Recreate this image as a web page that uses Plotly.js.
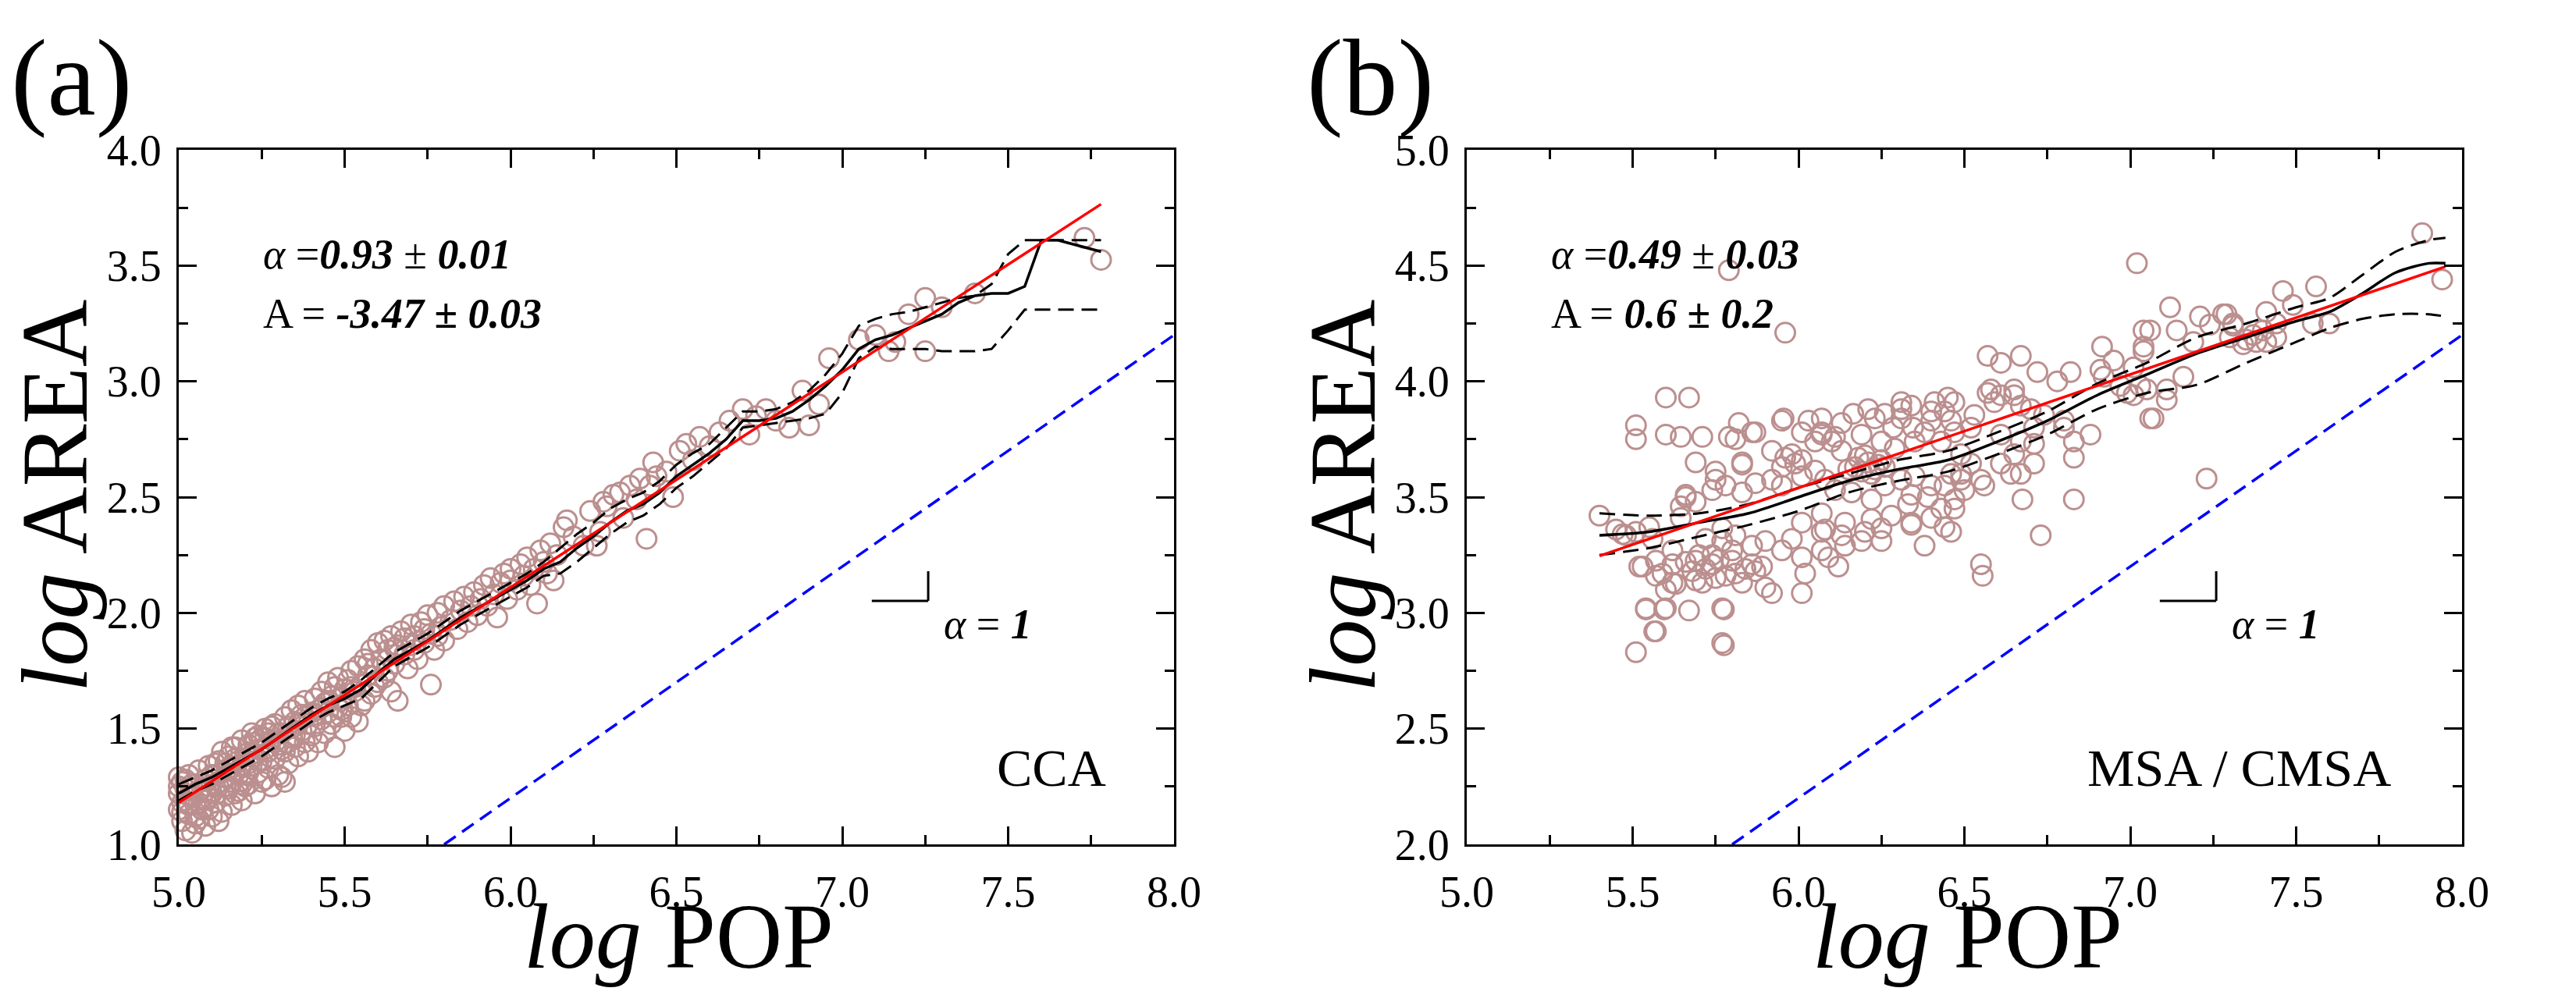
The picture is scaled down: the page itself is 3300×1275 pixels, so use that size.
<!DOCTYPE html>
<html>
<head>
<meta charset="utf-8">
<script src="https://cdn.plot.ly/plotly-3.0.1.min.js"></script>
<style>
  html, body { margin: 0; padding: 0; background: #ffffff; }
  #chart { width: 3300px; height: 1275px; }
</style>
</head>
<body>
<div id="chart"></div>
<script>
// ---------- (a) CCA: log population vs log area ----------
const ccaPop = [
  5.00,5.00,5.00,5.01,5.01,5.01,5.02,5.02,5.02,5.03,5.03,5.03,5.04,5.04,5.04,5.05,5.05,5.05,5.06,5.06,5.06,5.07,5.07,5.07,5.08,5.08,5.08,5.09,5.09,5.09,5.10,5.10,5.10,
  5.11,5.11,5.11,5.12,5.12,5.12,5.13,5.13,5.13,5.14,5.14,5.14,5.15,5.15,5.15,5.16,5.16,5.16,5.17,5.17,5.17,5.18,5.18,5.18,5.19,5.19,5.19,5.20,5.20,5.20,
  5.21,5.21,5.21,5.22,5.22,5.22,5.23,5.23,5.23,5.24,5.24,5.24,5.25,5.25,5.25,5.26,5.26,5.26,5.27,5.27,5.28,5.28,5.28,5.29,5.29,5.30,5.30,5.30,
  5.31,5.31,5.32,5.32,5.32,5.33,5.33,5.34,5.34,5.35,5.35,5.36,5.36,5.37,5.37,5.38,5.38,5.39,5.39,5.40,5.40,
  5.41,5.41,5.42,5.42,5.43,5.43,5.44,5.44,5.45,5.45,5.46,5.46,5.47,5.47,5.48,5.48,5.49,5.49,5.50,5.50,
  5.51,5.51,5.52,5.52,5.53,5.54,5.54,5.55,5.56,5.56,5.57,5.58,5.58,5.59,5.60,5.60,
  5.61,5.62,5.62,5.63,5.64,5.64,5.65,5.66,5.66,5.67,5.68,5.69,5.70,5.70,
  5.71,5.72,5.73,5.74,5.75,5.76,5.76,5.77,5.78,5.79,5.80,5.80,
  5.82,5.83,5.84,5.85,5.86,5.87,5.88,5.89,5.90,
  5.91,5.92,5.93,5.94,5.95,5.96,5.97,5.98,5.99,6.00,6.00,
  6.02,6.03,6.04,6.05,6.06,6.07,6.08,6.09,6.10,6.11,6.12,6.13,6.14,
  6.16,6.17,6.19,6.22,6.24,6.26,6.27,6.28,6.29,6.31,6.33,6.34,6.36,6.38,6.39,6.41,6.42,6.43,6.44,
  6.47,6.49,6.51,6.53,6.55,6.57,6.60,6.63,6.66,6.70,6.72,6.74,6.77,6.80,6.84,6.88,6.90,6.93,6.96,7.05,7.10,7.14,7.16,7.20,7.25,7.25,7.30,7.40,7.73,7.78,
  5.00,5.01,5.02,5.03,5.05,5.06,5.08,5.09,5.11,5.13,5.14,5.16,5.17,5.19,5.21,5.23,5.24,5.26,5.27,5.29,
  5.31,5.33,5.35,5.36,5.38,5.41,5.43,5.45,5.47,5.49,5.52,5.55,5.57,5.59,5.63,5.65,5.68,5.71,5.74,5.78
];
const ccaArea = [
  1.22,1.15,1.29,1.27,1.10,1.18,1.19,1.24,1.06,1.13,1.30,1.21,1.05,1.21,1.26,1.17,1.26,1.09,1.11,1.32,1.23,1.20,1.24,1.15,1.08,1.28,1.19,1.15,1.34,1.25,1.22,1.12,1.30,
  1.30,1.18,1.25,1.36,1.25,1.10,1.14,1.40,1.31,1.29,1.21,1.35,1.33,1.38,1.24,1.17,1.27,1.42,1.42,1.31,1.22,1.23,1.36,1.30,1.19,1.45,1.34,1.30,1.39,1.25,
  1.26,1.43,1.35,1.34,1.48,1.39,1.22,1.38,1.44,1.41,1.31,1.47,1.46,1.36,1.27,1.28,1.50,1.41,1.40,1.33,1.45,1.25,1.51,1.52,1.37,1.43,1.30,1.48,
  1.48,1.29,1.55,1.40,1.27,1.51,1.35,1.46,1.58,1.42,1.53,1.38,1.60,1.49,1.56,1.44,1.62,1.52,1.40,1.57,1.47,
  1.63,1.51,1.44,1.58,1.66,1.54,1.48,1.61,1.70,1.57,1.52,1.64,1.42,1.68,1.59,1.72,1.55,1.63,1.49,1.67,
  1.71,1.60,1.75,1.55,1.66,1.53,1.77,1.69,1.62,1.80,1.73,1.65,1.84,1.76,1.70,1.87,
  1.80,1.88,1.72,1.84,1.90,1.66,1.78,1.62,1.86,1.92,1.82,1.76,1.95,1.86,
  1.90,1.80,1.96,1.87,1.99,1.69,1.91,1.84,2.00,1.94,1.88,2.03,
  1.97,2.05,1.93,2.01,2.07,1.96,2.03,2.09,1.99,
  2.06,2.12,2.03,2.15,2.08,1.98,2.13,2.17,2.06,2.14,2.19,
  2.10,2.21,2.16,2.24,2.12,2.19,2.04,2.27,2.22,2.17,2.30,2.14,2.25,
  2.37,2.40,2.33,2.29,2.44,2.29,2.35,2.48,2.46,2.51,2.52,2.41,2.55,2.49,2.58,2.32,2.55,2.65,2.59,
  2.61,2.50,2.70,2.73,2.66,2.76,2.72,2.78,2.83,2.88,2.77,2.85,2.88,2.83,2.80,2.96,2.81,2.90,3.10,3.18,3.20,3.13,3.17,3.29,3.13,3.36,3.32,3.38,3.62,3.525,
  1.25,1.14,1.28,1.17,1.12,1.18,1.23,1.20,1.35,1.27,1.25,1.33,1.37,1.26,1.31,1.46,1.36,1.46,1.48,1.44,
  1.41,1.44,1.47,1.52,1.55,1.56,1.59,1.62,1.55,1.58,1.68,1.60,1.78,1.68,1.75,1.85,1.89,1.84,1.93,1.90
];

// Local (moving-window) estimate with its upper and lower bands
const ccaBandX = [5.00,5.05,5.10,5.15,5.20,5.25,5.30,5.35,5.40,5.45,5.50,5.55,5.60,5.65,5.70,5.75,5.80,5.85,5.90,5.95,6.00,6.05,6.10,6.15,6.20,6.25,6.30,6.35,6.40,6.45,6.50,6.55,6.60,6.65,6.70,6.75,6.80,6.85,6.90,6.95,7.00,7.05,7.10,7.15,7.20,7.25,7.30,7.35,7.40,7.45,7.50,7.55,7.60,7.65,7.70,7.78];
const ccaMean  = [1.22,1.26,1.29,1.33,1.37,1.41,1.46,1.51,1.56,1.60,1.63,1.67,1.74,1.80,1.84,1.88,1.93,1.98,2.02,2.06,2.10,2.14,2.19,2.22,2.28,2.33,2.39,2.44,2.47,2.52,2.59,2.64,2.69,2.75,2.83,2.83,2.84,2.87,2.92,2.98,3.05,3.14,3.18,3.20,3.23,3.26,3.29,3.34,3.37,3.38,3.38,3.41,3.61,3.61,3.59,3.56];
const ccaUpper = [1.26,1.29,1.32,1.36,1.40,1.44,1.49,1.54,1.59,1.63,1.66,1.71,1.77,1.83,1.87,1.91,1.96,2.01,2.05,2.09,2.13,2.17,2.22,2.28,2.34,2.39,2.45,2.49,2.52,2.57,2.64,2.69,2.73,2.80,2.87,2.87,2.88,2.91,2.96,3.03,3.12,3.24,3.27,3.29,3.30,3.32,3.34,3.36,3.37,3.42,3.55,3.61,3.61,3.61,3.61,3.61];
const ccaLower = [1.19,1.23,1.26,1.30,1.34,1.38,1.43,1.48,1.53,1.57,1.60,1.63,1.70,1.77,1.81,1.85,1.90,1.95,1.99,2.03,2.07,2.11,2.16,2.17,2.22,2.28,2.34,2.39,2.42,2.47,2.54,2.59,2.65,2.71,2.80,2.81,2.82,2.83,2.84,2.86,2.95,3.10,3.15,3.14,3.14,3.14,3.13,3.13,3.13,3.14,3.22,3.31,3.31,3.31,3.31,3.31];

// Power-law fit: log AREA = alpha * log POP + A
const ccaFit = { alpha: 0.93, A: -3.47, xFrom: 5.0, xTo: 7.78 };
// Guide line of slope 1
const ccaGuideX = [5.8, 8.0];
const ccaGuideY = [1.0, 3.2];

// ---------- (b) MSA / CMSA ----------
const msaPop = [
  5.40,5.47,5.45,5.51,5.51,5.51,5.54,5.57,5.55,5.52,5.60,5.60,5.60,5.59,5.62,5.645,5.67,5.67,5.66,5.69,5.70,5.645,5.75,5.77,5.77,5.77,5.81,5.82,5.83,5.87,
  5.79,5.96,7.02,5.71,5.79,5.86,5.83,5.955,6.03,6.07,6.10,6.13,6.165,6.23,6.31,6.31,6.285,6.345,6.40,6.44,6.47,6.57,6.61,6.67,6.57,6.61,6.65,6.72,6.78,6.82,
  6.915,6.91,6.95,7.04,7.04,7.12,7.14,7.28,7.31,7.46,7.41,7.44,7.07,7.11,6.99,7.05,6.83,6.83,7.23,6.73,6.675,6.55,6.555,6.71,6.67,6.56,6.46,6.38,6.40,6.34,
  6.25,6.25,6.22,6.14,6.08,6.07,6.12,6.02,6.01,5.92,5.90,5.775,5.775,5.595,5.565,5.54,5.53,5.62,5.68,5.74,5.80,5.86,5.87,5.81,5.75,5.69,5.63,5.60,5.72,5.78,
  5.84,5.66,5.71,5.76,5.83,5.89,5.57,5.95,5.99,5.98,5.92,5.95,5.87,5.83,5.78,5.74,5.75,5.69,5.66,5.645,6.01,6.05,6.08,6.11,6.16,6.22,6.26,6.31,6.35,6.40,
  6.44,6.47,6.49,6.46,6.28,6.34,6.20,6.13,6.07,6.01,5.98,5.95,6.01,6.07,5.77,5.81,5.72,5.86,5.90,5.80,5.74,5.69,5.62,5.57,5.56,5.48,5.51,5.92,5.96,6.01,
  6.05,6.07,6.11,6.01,5.95,6.19,6.25,6.29,6.35,6.38,6.43,6.47,6.52,6.46,6.40,6.34,6.41,6.31,6.53,6.59,6.58,6.65,6.67,6.70,6.61,6.67,6.71,6.74,6.49,6.52,
  6.49,6.55,6.61,6.64,6.65,6.71,6.80,6.83,6.88,6.80,6.92,6.97,7.01,7.16,7.11,7.19,7.24,7.30,7.34,7.40,7.44,7.38,7.56,7.60,7.88,7.94,7.21,7.29,7.31,7.06,
  7.04,7.03,7.06,7.01,7.41,7.37,7.35,7.55,7.49,6.17,6.19,6.21,6.23,6.25,6.18,6.22,6.26,6.20,6.24,6.15,6.07,6.13,6.21,6.26,6.45,6.33,6.39,6.43,6.50,6.09,
  6.14,6.19,6.34,6.44,6.47
];
const msaArea = [
  3.42,3.34,3.36,3.75,3.81,2.83,3.02,2.92,3.37,3.20,3.77,3.93,3.02,3.17,3.13,3.76,3.93,3.01,3.51,3.65,3.25,3.41,3.61,3.02,2.87,3.31,3.75,3.82,3.65,3.78,
  4.48,4.21,4.51,3.76,3.76,3.78,3.64,3.84,3.83,3.78,3.74,3.70,3.86,3.84,3.88,3.84,3.80,3.80,3.87,3.87,3.91,4.11,4.08,4.11,3.95,3.94,3.965,4.04,4.00,4.04,
  4.15,4.05,4.09,4.22,4.13,4.32,4.22,4.29,4.25,4.39,4.30,4.25,3.84,3.92,3.95,3.965,3.67,3.49,3.58,3.335,3.49,3.21,3.16,3.645,3.60,3.55,3.35,3.29,3.41,3.39,
  3.31,3.365,3.405,3.39,3.36,3.43,3.20,3.17,3.085,3.085,3.11,3.015,2.86,3.015,2.92,3.015,3.20,3.21,3.18,3.21,3.225,3.21,3.18,3.17,3.15,3.14,3.125,3.10,3.19,3.16,
  3.19,3.22,3.13,3.23,3.13,3.20,3.16,3.63,3.645,3.685,3.575,3.55,3.56,3.52,3.55,3.53,3.575,3.48,3.50,3.46,3.59,3.615,3.575,3.53,3.52,3.49,3.55,3.575,3.59,3.55,
  3.55,3.49,3.575,3.60,3.42,3.38,3.35,3.335,3.35,3.39,3.32,3.27,3.24,3.27,3.365,3.335,3.32,3.29,3.31,3.27,3.25,3.225,3.27,3.225,3.32,3.335,3.35,3.70,3.67,3.66,
  3.74,3.77,3.76,3.78,3.83,3.77,3.74,3.71,3.74,3.78,3.74,3.78,3.80,3.83,3.83,3.895,3.91,3.91,3.855,3.91,3.965,3.94,3.895,3.88,3.77,3.74,3.80,3.855,3.685,3.645,
  3.60,3.575,3.645,3.60,3.685,3.73,3.80,3.74,3.77,3.83,4.02,3.98,3.94,4.02,3.965,4.17,4.245,4.19,4.16,4.22,4.19,4.17,4.41,4.25,4.64,4.44,4.28,4.29,4.24,4.22,
  4.15,3.98,3.84,4.06,4.17,4.20,4.18,4.25,4.33,3.63,3.61,3.65,3.62,3.66,3.67,3.60,3.63,3.68,3.64,3.62,3.84,3.82,3.88,3.86,3.93,3.47,3.50,3.45,3.53,3.24,
  3.29,3.31,3.51,3.37,3.45
];

const msaBandX = [5.40,5.55,5.70,5.85,6.00,6.15,6.30,6.45,6.60,6.75,6.90,7.05,7.20,7.35,7.50,7.60,7.70,7.80,7.90,7.95];
const msaMean  = [3.335,3.35,3.39,3.43,3.50,3.57,3.62,3.66,3.74,3.83,3.94,4.03,4.12,4.19,4.26,4.30,4.38,4.47,4.51,4.51];
const msaUpper = [3.43,3.42,3.43,3.47,3.54,3.60,3.66,3.70,3.78,3.87,3.99,4.08,4.19,4.25,4.32,4.36,4.46,4.56,4.61,4.62];
const msaLower = [3.25,3.28,3.33,3.38,3.44,3.52,3.57,3.61,3.685,3.77,3.88,3.95,3.985,4.08,4.17,4.23,4.27,4.29,4.29,4.28];

const msaFit = { alpha: 0.49, A: 0.6, xFrom: 5.4, xTo: 7.95 };
const msaGuideX = [5.8, 8.0];
const msaGuideY = [2.0, 4.2];

// Axis tick values
const popTicks = [5.0, 5.5, 6.0, 6.5, 7.0, 7.5, 8.0];
const ccaAreaTicks = [1.0, 1.5, 2.0, 2.5, 3.0, 3.5, 4.0];
const msaAreaTicks = [2.0, 2.5, 3.0, 3.5, 4.0, 4.5, 5.0];

// ---------- drawing ----------
const FONT = 'Liberation Serif';
const DOT = '#bc8f8f';

function fitLine(fit) {
  const xs = [fit.xFrom, fit.xTo];
  return { x: xs, y: xs.map(v => fit.alpha * v + fit.A) };
}

function panelTraces(xa, ya, pop, area, bx, bm, bu, bl, fit, gx, gy, shape) {
  const fl = fitLine(fit);
  return [
    { type: 'scatter', mode: 'markers', x: pop, y: area, xaxis: xa, yaxis: ya,
      cliponaxis: false,
      marker: { symbol: 'circle-open', size: 25, color: DOT, line: { width: 3, color: DOT } },
      hoverinfo: 'skip' },
    { type: 'scatter', mode: 'lines', x: bx, y: bu, xaxis: xa, yaxis: ya,
      line: { color: '#000', width: 3, dash: '20px,10px', shape: shape, smoothing: 0.8 } },
    { type: 'scatter', mode: 'lines', x: bx, y: bl, xaxis: xa, yaxis: ya,
      line: { color: '#000', width: 3, dash: '20px,10px', shape: shape, smoothing: 0.8 } },
    { type: 'scatter', mode: 'lines', x: bx, y: bm, xaxis: xa, yaxis: ya,
      line: { color: '#000', width: 3.5, shape: shape, smoothing: 0.8 } },
    { type: 'scatter', mode: 'lines', x: fl.x, y: fl.y, xaxis: xa, yaxis: ya,
      line: { color: '#ff0000', width: 3.5 } },
    { type: 'scatter', mode: 'lines', x: gx, y: gy, xaxis: xa, yaxis: ya,
      line: { color: '#0000ff', width: 3.5, dash: '18px,10px' } }
  ];
}

const traces = [].concat(
  panelTraces('x', 'y', ccaPop, ccaArea, ccaBandX, ccaMean, ccaUpper, ccaLower, ccaFit, ccaGuideX, ccaGuideY, 'linear'),
  panelTraces('x2', 'y2', msaPop, msaArea, msaBandX, msaMean, msaUpper, msaLower, msaFit, msaGuideX, msaGuideY, 'spline')
);

function axis(range, domain, anchor, ticks, isX) {
  return {
    range: range, domain: domain, anchor: anchor,
    tickmode: 'array', tickvals: ticks, tickformat: '.1f',
    ticks: 'inside', ticklen: 23, tickwidth: 3, tickcolor: '#000',
    minor: { ticks: 'inside', ticklen: 12, tickwidth: 3, tickcolor: '#000', dtick: 0.25, tick0: 0, showgrid: false },
    showline: true, linewidth: 3, linecolor: '#000', mirror: 'ticks',
    showgrid: false, zeroline: false,
    tickfont: { family: FONT, size: 56, color: '#000' },
    ticklabelstandoff: isX ? 10 : 8,
    fixedrange: true
  };
}

const yDom = [1 - 1082 / 1275, 1 - 192 / 1275];
const x1Dom = [229 / 3300, 1504 / 3300];
const x2Dom = [1879 / 3300, 3154 / 3300];

function txt(xref, yref, x, y, text, size, extra) {
  return Object.assign({ xref: xref, yref: yref, x: x, y: y, text: text, showarrow: false,
    xanchor: 'left', yanchor: 'middle', font: { family: FONT, size: size, color: '#000' } }, extra || {});
}

const annotations = [
  // panel letters
  txt('paper', 'paper', 12 / 3300, 1 - 100 / 1275, '(a)', 140),
  txt('paper', 'paper', 1672 / 3300, 1 - 100 / 1275, '(b)', 140),
  // axis titles
  txt('paper', 'paper', 870 / 3300, 1 - 1200 / 1275, '<i>log</i> POP', 118, { xanchor: 'center' }),
  txt('paper', 'paper', 2520 / 3300, 1 - 1200 / 1275, '<i>log</i> POP', 118, { xanchor: 'center' }),
  txt('paper', 'paper', 70 / 3300, 1 - 636 / 1275, '<i>log</i> AREA', 120, { xanchor: 'center', textangle: -90 }),
  txt('paper', 'paper', 1720 / 3300, 1 - 636 / 1275, '<i>log</i> AREA', 120, { xanchor: 'center', textangle: -90 }),
  // fit results
  txt('x', 'y', 5.25, 3.548, '<i>α</i> =<b><i>0.93</i></b> ± <b><i>0.01</i></b>', 54),
  txt('x', 'y', 5.25, 3.292, 'A = <b><i>-3.47 ± 0.03</i></b>', 54),
  txt('x2', 'y2', 5.25, 4.548, '<i>α</i> =<b><i>0.49</i></b> ± <b><i>0.03</i></b>', 54),
  txt('x2', 'y2', 5.25, 4.292, 'A = <b><i>0.6 ± 0.2</i></b>', 54),
  // slope-1 guide labels
  txt('x', 'y', 7.30, 1.95, '<i>α</i> = <b><i>1</i></b>', 54),
  txt('x2', 'y2', 7.30, 2.95, '<i>α</i> = <b><i>1</i></b>', 54),
  // dataset names
  txt('x', 'y', 7.46, 1.33, 'CCA', 68),
  txt('x2', 'y2', 6.866, 2.33, 'MSA / CMSA', 68)
];

function corner(xr, yr, y0) {
  return [
    { type: 'line', xref: xr, yref: yr, x0: 7.089, x1: 7.259, y0: y0, y1: y0, line: { color: '#000', width: 3 } },
    { type: 'line', xref: xr, yref: yr, x0: 7.259, x1: 7.259, y0: y0, y1: y0 + 0.128, line: { color: '#000', width: 3 } }
  ];
}

const layout = {
  width: 3300, height: 1275,
  margin: { l: 0, r: 0, t: 0, b: 0, pad: 0 },
  paper_bgcolor: '#ffffff', plot_bgcolor: '#ffffff',
  showlegend: false,
  font: { family: FONT, color: '#000' },
  xaxis: axis([5, 8], x1Dom, 'y', popTicks, true),
  yaxis: axis([1, 4], yDom, 'x', ccaAreaTicks, false),
  xaxis2: axis([5, 8], x2Dom, 'y2', popTicks, true),
  yaxis2: axis([2, 5], yDom, 'x2', msaAreaTicks, false),
  annotations: annotations,
  shapes: [].concat(corner('x', 'y', 2.052), corner('x2', 'y2', 3.052))
};

Plotly.newPlot('chart', traces, layout, { staticPlot: true, displayModeBar: false });
</script>
</body>
</html>
